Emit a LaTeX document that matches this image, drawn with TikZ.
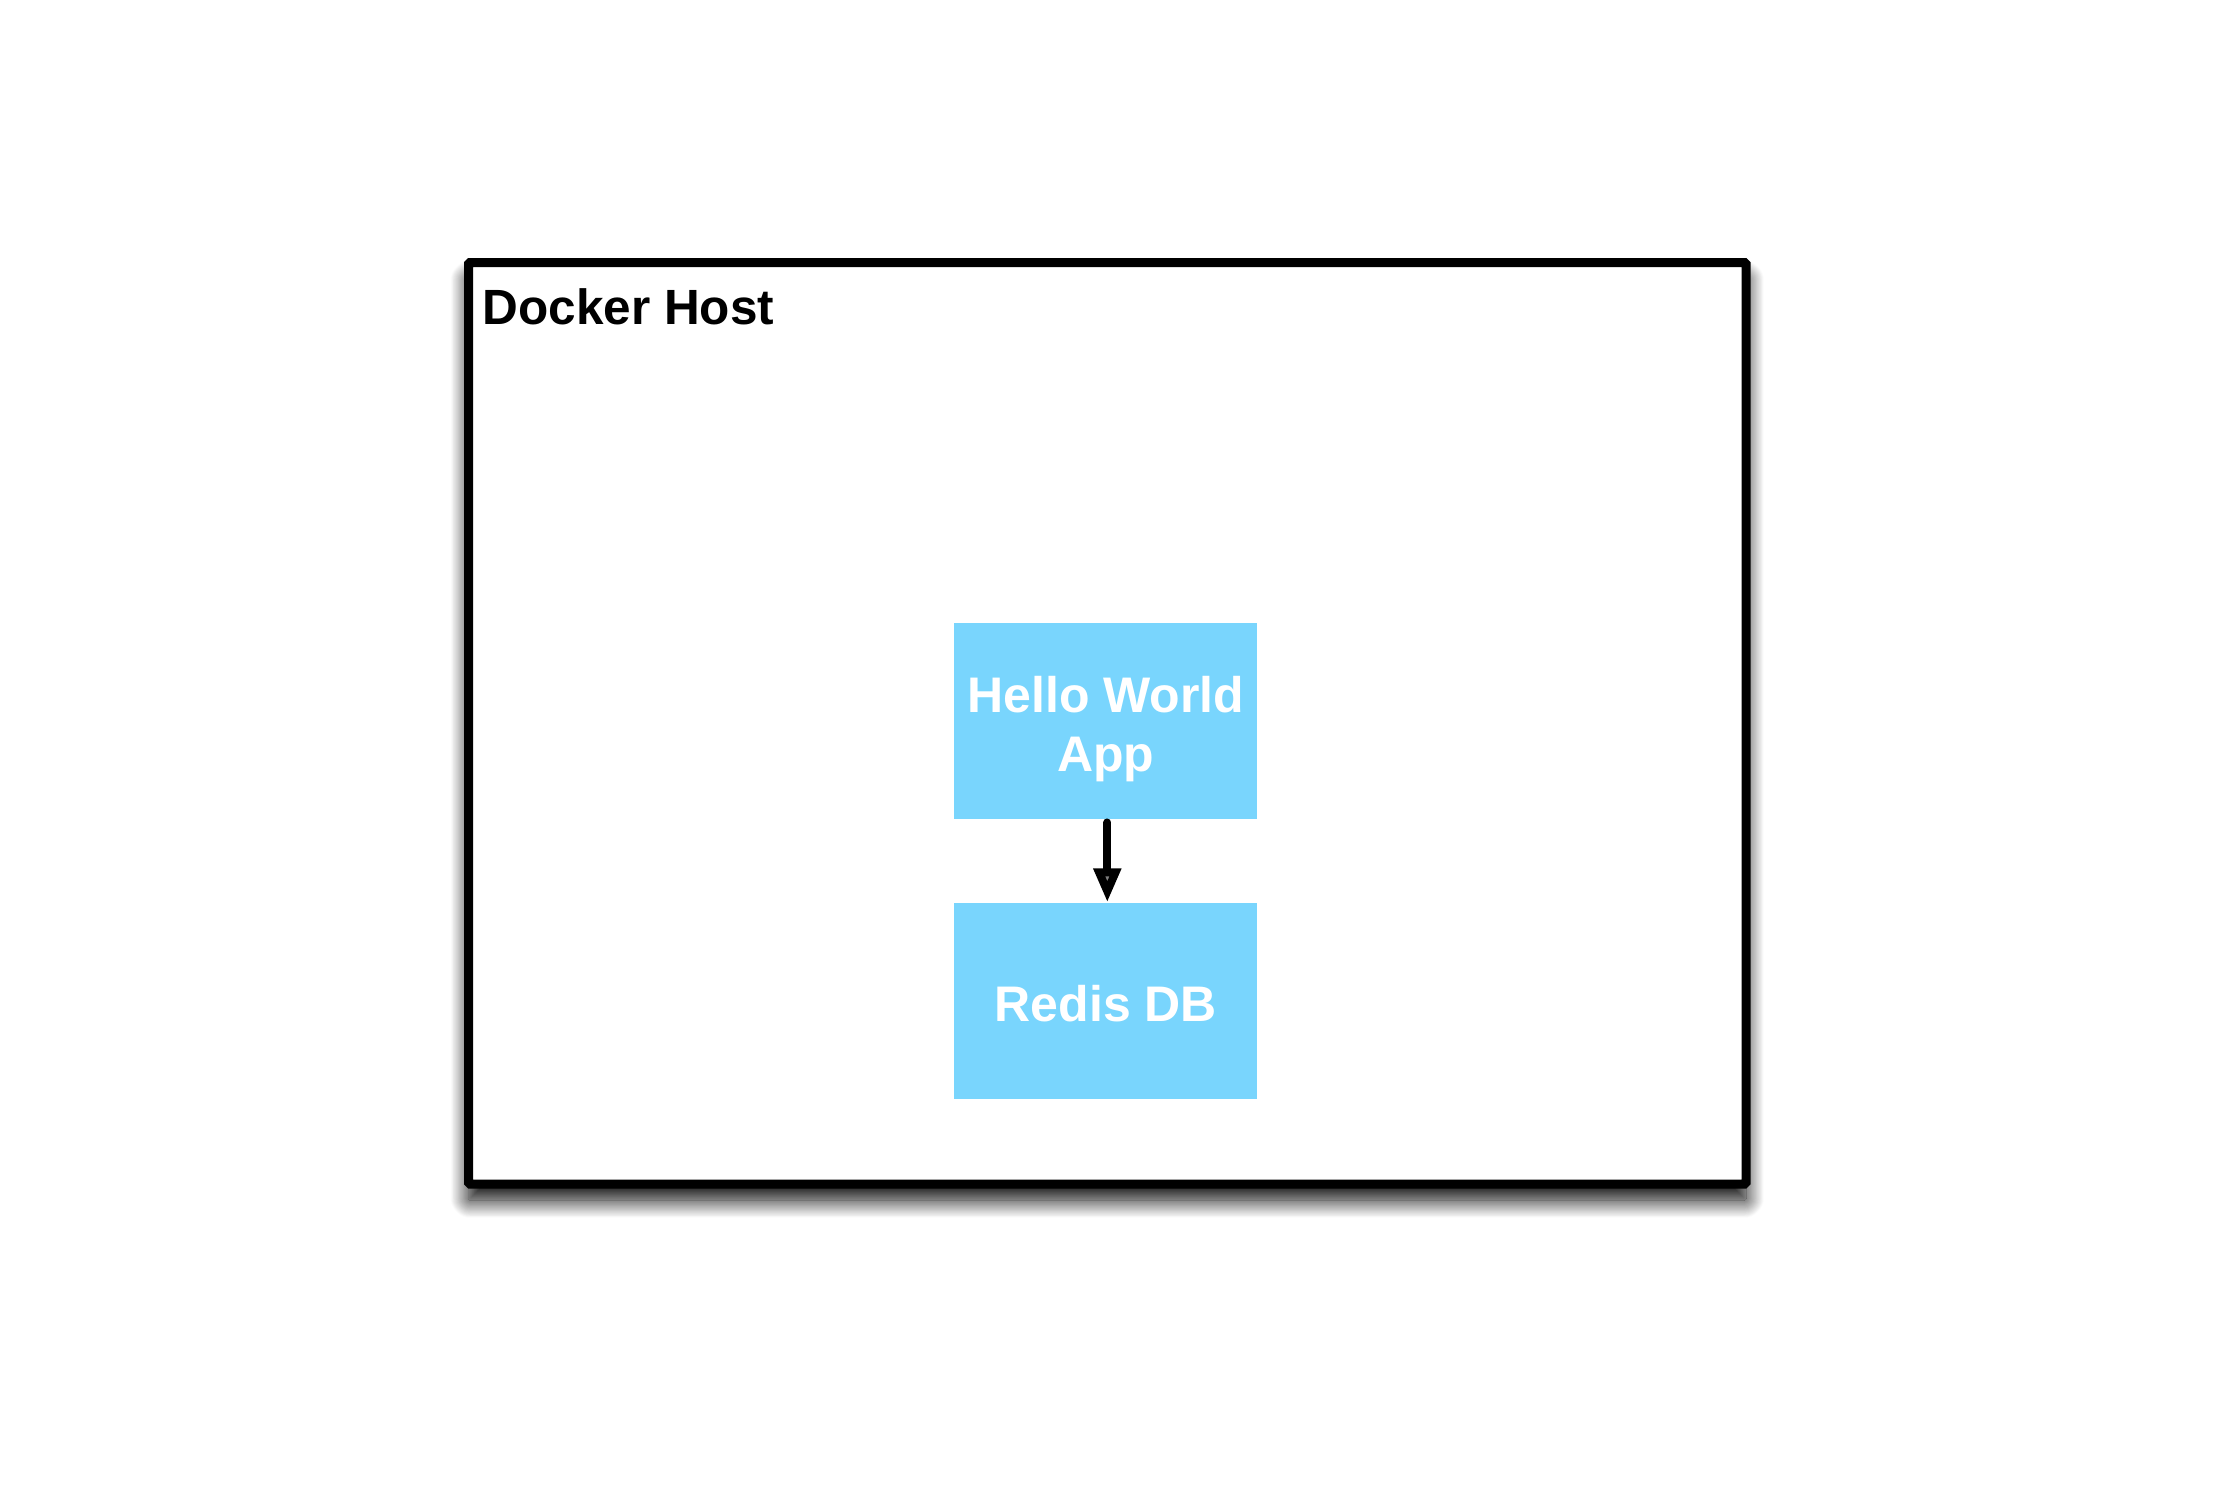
\documentclass[tikz,border=0pt]{standalone}
\usepackage{fontspec}
\setmainfont{Liberation Sans}
\usetikzlibrary{arrows.meta,shadows.blur}
\definecolor{boxblue}{RGB}{121,213,253}
\tikzset{
  hostbox/.style={draw=black, line width=9pt, fill=white, rounded corners=1.5pt,
    blur shadow={shadow xshift=0pt, shadow yshift=-16pt, shadow blur radius=18pt,
      shadow blur steps=40, shadow opacity=100}},
  svcbox/.style={fill=boxblue, draw=none, inner sep=0pt, minimum width=302.7pt, minimum height=196.5pt},
  boxlabel/.style={text=white, font=\bfseries\fontsize{50}{59.3}\selectfont, align=center, inner sep=0pt},
  hostlabel/.style={text=black, font=\bfseries\fontsize{49.5}{58}\selectfont, inner sep=0pt},
  flow/.style={line width=8pt, line cap=round, -{Triangle[width=26pt,length=34pt]}}
}
\begin{document}
\begin{tikzpicture}[x=1pt,y=-1pt]
  \useasboundingbox (0,0) rectangle (2238,1489);
  \path[hostbox] (468.5,262.5) rectangle (1746,1184);
  \node[hostlabel, anchor=base west] (hostname) at (482.4,324.3) {Docker Host};
  \node[svcbox] (hello) at (1105.3,721) {};
  \node[svcbox] (redis) at (1105.3,1000.85) {};
  \node[boxlabel, anchor=north] (hellotext) at (1105.8,675.9) {Hello World\\App};
  \node[boxlabel, anchor=base] (redistext) at (1105.8,1021.7) {Redis DB};
  \draw[flow, shorten <=3pt] ([xshift=2pt]hello.south) -- ([xshift=2pt]redis.north);
\end{tikzpicture}
\end{document}
